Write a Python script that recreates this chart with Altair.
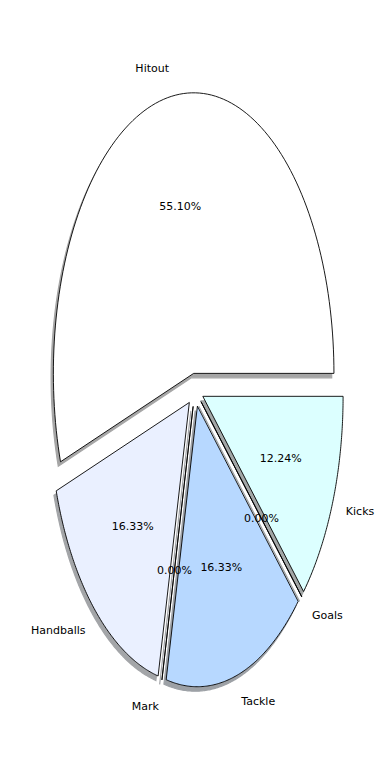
import altair as alt
import numpy as np
import pandas as pd

# ---- data ----
labels = ["Hitout", "Handballs", "Mark", "Tackle", "Goals", "Kicks"]
values = [27, 8, 0, 8, 0, 6]
colors = ["#ffffff", "#eaf0ff", "#dde6ff", "#b7d8ff", "#cdeeff", "#dcffff"]
shadow_colors = ["#a6a6a6", "#a3a5a8", "#a2a4a8", "#9da1a6", "#a1a6a8", "#a2a6a6"]
explode = [0.06, 0.06, 0.06, 0.06, 0.06, 0.06]

N = 120  # arc resolution
total = float(sum(values))
fr = np.array(values, dtype=float) / total
ends = np.cumsum(fr)
starts = ends - fr

rows = []
for i, lab in enumerate(labels):
    for p in range(N + 3):
        rows.append({"label": lab, "start": starts[i], "end": ends[i],
                     "ex": explode[i], "p": p})
wedges = pd.DataFrame(rows)

lab_df = pd.DataFrame({"label": labels, "start": starts, "end": ends,
                       "ex": explode, "pct": fr})

W, H = 390, 780
xs = alt.Scale(domain=[-1.39, 1.39], nice=False, zero=False)
ys = alt.Scale(domain=[-1.39, 1.39], nice=False, zero=False)

base = alt.Chart(wedges)
base = base.transform_calculate(t=f"clamp((datum.p - 1) / {N}, 0, 1)")
base = base.transform_calculate(r=f"(datum.p == 0 || datum.p == {N + 2}) ? 0 : 1")
base = base.transform_calculate(th="2 * PI * (datum.start + (datum.end - datum.start) * datum.t)")
base = base.transform_calculate(mid="PI * (datum.start + datum.end)")
base = base.transform_calculate(x="datum.ex * cos(datum.mid) + datum.r * cos(datum.th)",
                                y="datum.ex * sin(datum.mid) + datum.r * sin(datum.th)")
base = base.transform_calculate(xs="datum.x - 0.016", ys="datum.y - 0.016")

shadow = base.mark_line(strokeWidth=1.2).encode(
    x=alt.X("xs:Q", scale=xs, axis=None),
    y=alt.Y("ys:Q", scale=ys, axis=None),
    order=alt.Order("p:Q"),
    detail="label:N",
    fill=alt.Fill("label:N", scale=alt.Scale(domain=labels, range=shadow_colors), legend=None),
    stroke=alt.Stroke("label:N", scale=alt.Scale(domain=labels, range=shadow_colors), legend=None),
)

wedge = base.mark_line(strokeWidth=0.9, stroke="black", strokeJoin="miter").encode(
    x=alt.X("x:Q", scale=xs, axis=None),
    y=alt.Y("y:Q", scale=ys, axis=None),
    order=alt.Order("p:Q"),
    detail="label:N",
    fill=alt.Fill("label:N", scale=alt.Scale(domain=labels, range=colors), legend=None),
)

lbase = alt.Chart(lab_df).transform_calculate(
    mid="PI * (datum.start + datum.end)"
).transform_calculate(
    lx="(datum.ex + 1.1) * cos(datum.mid)",
    ly="(datum.ex + 1.1) * sin(datum.mid)",
    px="(datum.ex + 0.6) * cos(datum.mid)",
    py="(datum.ex + 0.6) * sin(datum.mid)",
    ptxt="format(datum.pct * 100, '.2f') + '%'",
)

font = "DejaVu Sans"
fs = 11

name_left = lbase.transform_filter("datum.lx > 0").mark_text(
    align="left", baseline="middle", font=font, fontSize=fs, color="black"
).encode(x=alt.X("lx:Q", scale=xs, axis=None), y=alt.Y("ly:Q", scale=ys, axis=None), text="label:N")

name_right = lbase.transform_filter("datum.lx <= 0").mark_text(
    align="right", baseline="middle", font=font, fontSize=fs, color="black"
).encode(x=alt.X("lx:Q", scale=xs, axis=None), y=alt.Y("ly:Q", scale=ys, axis=None), text="label:N")

pct = lbase.mark_text(
    align="center", baseline="middle", font=font, fontSize=fs, color="black"
).encode(x=alt.X("px:Q", scale=xs, axis=None), y=alt.Y("py:Q", scale=ys, axis=None), text="ptxt:N")

chart = alt.layer(shadow, wedge, name_left, name_right, pct).resolve_scale(
    fill="independent", stroke="independent"
).properties(
    width=W, height=H, autosize=alt.AutoSizeParams(type="none"), padding=0,
    view=alt.ViewBackground(strokeOpacity=0, strokeWidth=0, fill="white"),
).configure_view(strokeOpacity=0, strokeWidth=0)

chart.save("out.html", embed_options={"renderer": "svg", "actions": False})
